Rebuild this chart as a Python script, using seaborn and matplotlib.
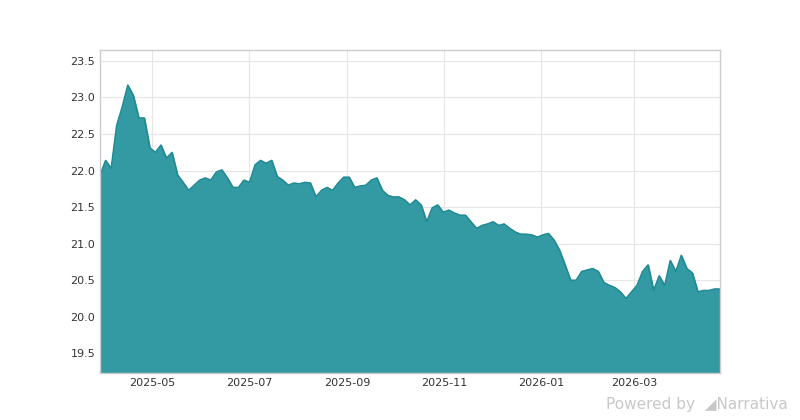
import matplotlib
matplotlib.use("Agg")
import matplotlib.pyplot as plt
import matplotlib.dates as mdates
import seaborn as sns
import pandas as pd

values = [21.94, 22.14, 22.03, 22.62, 22.87, 23.17, 23.03, 22.72, 22.72, 22.31, 22.25, 22.35,
          22.17, 22.25, 21.94, 21.84, 21.73, 21.80, 21.87, 21.90, 21.87, 21.98, 22.01, 21.90,
          21.77, 21.77, 21.87, 21.84, 22.08, 22.14, 22.10, 22.14, 21.92, 21.87, 21.80, 21.83,
          21.82, 21.84, 21.83, 21.64, 21.73, 21.77, 21.73, 21.83, 21.91, 21.91, 21.77, 21.79,
          21.80, 21.87, 21.90, 21.73, 21.66, 21.64, 21.64, 21.60, 21.53, 21.60, 21.53, 21.30,
          21.49, 21.53, 21.43, 21.46, 21.42, 21.39, 21.39, 21.30, 21.21, 21.25, 21.27, 21.30,
          21.25, 21.27, 21.21, 21.16, 21.13, 21.13, 21.12, 21.09, 21.12, 21.14, 21.05, 20.91,
          20.71, 20.50, 20.50, 20.62, 20.64, 20.66, 20.62, 20.47, 20.43, 20.40, 20.34, 20.25,
          20.34, 20.43, 20.62, 20.71, 20.36, 20.56, 20.43, 20.77, 20.62, 20.84, 20.66, 20.60,
          20.34, 20.36, 20.36, 20.38, 20.38]
dates = pd.date_range("2025-03-29", "2026-04-24", periods=len(values))
df = pd.DataFrame({"date": dates, "value": values})

sns.set_theme(style="whitegrid")
fig = plt.figure(figsize=(8, 4.2), dpi=100)
ax = fig.add_axes([0.125, 0.112, 0.775, 0.769])
sns.lineplot(data=df, x="date", y="value", ax=ax, color="#1f8a94", linewidth=1)
ax.fill_between(df["date"], df["value"], 19.23, color="#3399a3", alpha=1, zorder=1)
ax.set_ylim(19.23, 23.65)
ax.set_xlim(dates[0], dates[-1])
ax.set_xlabel("")
ax.set_ylabel("")
ax.xaxis.set_major_locator(mdates.MonthLocator(bymonth=[1, 3, 5, 7, 9, 11]))
ax.xaxis.set_major_formatter(mdates.DateFormatter("%Y-%m"))
ax.set_yticks([19.5, 20.0, 20.5, 21.0, 21.5, 22.0, 22.5, 23.0, 23.5])
ax.tick_params(labelsize=8, colors="#333333", length=0)
ax.grid(color="#e6e6e6", linewidth=0.8)
for s in ax.spines.values():
    s.set_color("#cccccc")
    s.set_linewidth(1)
fig.text(0.985, 0.02, "Powered by  \u25e2Narrativa", ha="right", va="bottom",
         fontsize=11, color="#c8c8c8")
fig.savefig("out.png")
